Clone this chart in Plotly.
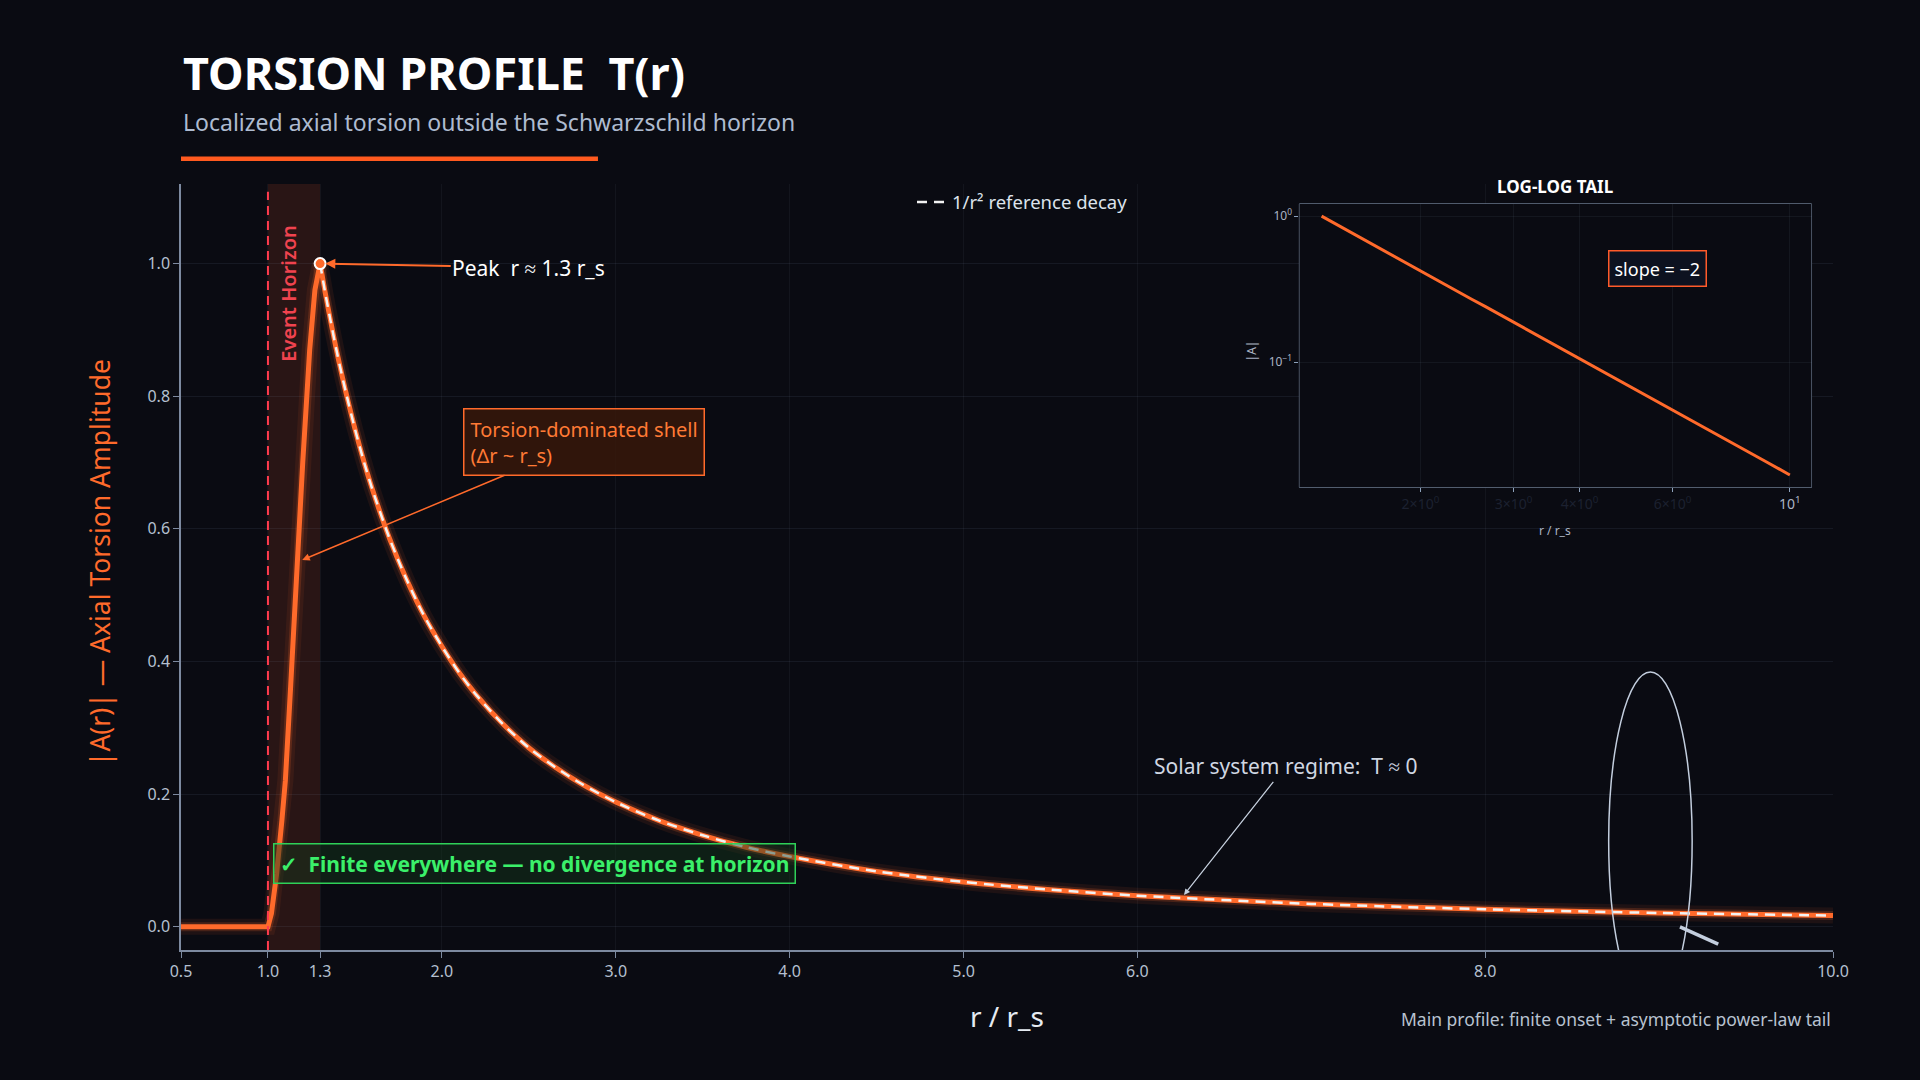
import plotly.graph_objects as go

# main profile |A(r)|
r_flat = [0.5, 0.75, 1.0]
a_flat = [0.0, 0.0, 0.0]

r_rise = [1.0, 1.02, 1.05, 1.08, 1.1, 1.13, 1.16, 1.2, 1.24, 1.27, 1.3]
a_rise = [0.0, 0.02, 0.08, 0.16, 0.22, 0.36, 0.52, 0.70, 0.87, 0.96, 1.0]

r_tail = [1.3, 1.33, 1.36, 1.4, 1.45, 1.5, 1.55, 1.6, 1.7, 1.8, 1.9, 2.0, 2.1, 2.2, 2.35, 2.5,
          2.65, 2.8, 3.0, 3.25, 3.5, 3.75, 4.0, 4.5, 5.0, 5.5, 6.0, 7.0, 8.0, 9.0, 10.0]
a_tail = [1.0, 0.955, 0.914, 0.862, 0.804, 0.751, 0.703, 0.660, 0.585, 0.522, 0.468, 0.423,
          0.383, 0.349, 0.306, 0.270, 0.241, 0.216, 0.188, 0.160, 0.138, 0.120, 0.106, 0.0835,
          0.0676, 0.0559, 0.0469, 0.0345, 0.0264, 0.0209, 0.0169]

x_ticks = [0.5, 1.0, 1.3, 2.0, 3.0, 4.0, 5.0, 6.0, 8.0, 10.0]
y_ticks = [0.0, 0.2, 0.4, 0.6, 0.8, 1.0]
inset_x_ticks = [2, 3, 4, 6, 10]
inset_x_text = ["2×10<sup>0</sup>", "3×10<sup>0</sup>", "4×10<sup>0</sup>", "6×10<sup>0</sup>", "10<sup>1</sup>"]
inset_y_ticks = [1, 0.1]
inset_y_text = ["10<sup>0</sup>", "10<sup>−1</sup>"]

peak_r, peak_a = 1.3, 1.0

BG = "#0a0b12"
ORANGE = "#ff6a2b"
AXIS = "#7d8aa0"
TICK = "#b5c0d0"
FONT = "Noto Sans"

r_onset = r_flat + r_rise[1:]
a_onset = a_flat + a_rise[1:]

fig = go.Figure()

# glow under the main curve
for w, op in [(16, 0.08), (9, 0.18)]:
    fig.add_trace(go.Scatter(x=r_onset, y=a_onset, mode="lines",
                             line=dict(color=ORANGE, width=w), opacity=op,
                             showlegend=False, hoverinfo="skip"))
    fig.add_trace(go.Scatter(x=r_tail, y=a_tail, mode="lines",
                             line=dict(color=ORANGE, width=w, shape="spline", smoothing=0.8),
                             opacity=op, showlegend=False, hoverinfo="skip"))

fig.add_trace(go.Scatter(x=r_onset, y=a_onset, mode="lines", name="|A(r)|",
                         line=dict(color=ORANGE, width=5), showlegend=False))
fig.add_trace(go.Scatter(x=r_tail, y=a_tail, mode="lines", name="|A(r)| tail",
                         line=dict(color=ORANGE, width=5, shape="spline", smoothing=0.8),
                         showlegend=False))

fig.add_trace(go.Scatter(x=r_tail, y=a_tail, mode="lines", name="1/r² reference decay",
                         line=dict(color="#f2f2f2", width=2.5, dash="10px,7px",
                                   shape="spline", smoothing=0.8)))

fig.add_trace(go.Scatter(x=[peak_r], y=[peak_a], mode="markers", showlegend=False,
                         marker=dict(size=11, color=ORANGE, line=dict(color="white", width=2))))

# inset log-log tail
fig.add_trace(go.Scatter(x=r_tail, y=a_tail, mode="lines", xaxis="x2", yaxis="y2",
                         line=dict(color=ORANGE, width=3), showlegend=False))

shapes = [
    dict(type="rect", xref="x", yref="paper", x0=1.0, x1=1.3, y0=0, y1=1,
         fillcolor="rgba(255,90,50,0.13)", line_width=0, layer="below"),
    dict(type="line", xref="x", yref="paper", x0=1.0, x1=1.0, y0=0, y1=0.99,
         line=dict(color="#ff3b4e", width=2, dash="9px,6px")),
    dict(type="rect", xref="paper", yref="paper", x0=0, x1=0.2524, y0=1.030, y1=1.036,
         fillcolor="#ff5a1f", line_width=0),
    dict(type="rect", xref="x2 domain", yref="y2 domain", x0=0, x1=1, y0=0, y1=1,
         fillcolor="rgba(22,32,52,0.45)", line=dict(color="#8ea2bb", width=1), layer="below"),
    # magnifier glyph on the tail
    dict(type="circle", xref="x", yref="y", x0=8.71, x1=9.19, y0=-0.125, y1=0.384,
         line=dict(color="#c3cede", width=1.5)),
    dict(type="line", xref="x", yref="y", x0=9.12, x1=9.34, y0=0.0, y1=-0.026,
         line=dict(color="#c3cede", width=3.5)),
]

annotations = [
    dict(text="<b>TORSION PROFILE  T(r)</b>", xref="paper", yref="paper", x=0.0, y=1.146,
         xanchor="left", yanchor="middle", showarrow=False,
         font=dict(family=FONT, size=45, color="white")),
    dict(text="Localized axial torsion outside the Schwarzschild horizon", xref="paper",
         yref="paper", x=0.0, y=1.081, xanchor="left", yanchor="middle", showarrow=False,
         font=dict(family=FONT, size=23, color="#aebbd0")),
    dict(text="Event Horizon", xref="x", yref="y", x=1.113, y=0.954, textangle=-90,
         xanchor="center", yanchor="middle", showarrow=False,
         font=dict(family=FONT, size=20, color="#f0434f", weight=600)),
    dict(text="Peak  r ≈ 1.3 r_s", xref="x", yref="y", x=1.33, y=1.0, axref="x", ayref="y",
         ax=2.5, ay=0.994, showarrow=True, arrowhead=2, arrowsize=1, arrowwidth=2,
         arrowcolor=ORANGE, font=dict(family=FONT, size=21, color="white")),
    dict(text="Torsion-dominated shell<br>(Δr ~ r_s)", xref="x", yref="y", x=1.197, y=0.553,
         axref="x", ayref="y", ax=2.817, ay=0.731, showarrow=True, arrowhead=2, arrowwidth=1.5,
         arrowcolor=ORANGE, align="left", bgcolor="rgba(55,24,10,0.85)", bordercolor=ORANGE,
         borderwidth=1.5, borderpad=6, font=dict(family=FONT, size=20, color="#ff7a35")),
    dict(text="<b>✓  Finite everywhere — no divergence at horizon</b>", xref="x", yref="y",
         x=2.535, y=0.096, xanchor="center", yanchor="middle", showarrow=False,
         bgcolor="rgba(20,55,28,0.45)", bordercolor="#2fd158", borderwidth=1.5, borderpad=5,
         font=dict(family=FONT, size=21, color="#3bf06a")),
    dict(text="Solar system regime:  T ≈ 0", xref="x", yref="y", x=6.268, y=0.048,
         axref="x", ayref="y", ax=6.852, ay=0.242, showarrow=True, arrowhead=2, arrowwidth=1.2,
         arrowcolor="#c8d2e0", font=dict(family=FONT, size=21, color="#d0d7e2")),
    dict(text="Main profile: finite onset + asymptotic power-law tail", xref="paper",
         yref="paper", x=1.0, y=-0.090, xanchor="right", yanchor="middle", showarrow=False,
         font=dict(family=FONT, size=17.5, color="#b8c2d0")),
    dict(text="r / r_s", xref="paper", yref="paper", x=0.5, y=-0.086, xanchor="center",
         yanchor="middle", showarrow=False, font=dict(family=FONT, size=28, color="#e6ebf2")),
    dict(text="|A(r)| — Axial Torsion Amplitude", xref="paper", yref="paper", x=-0.049,
         y=0.505, xanchor="center", yanchor="middle", textangle=-90, showarrow=False,
         font=dict(family=FONT, size=26.5, color=ORANGE)),
    dict(text="<b>LOG-LOG TAIL</b>", xref="paper", yref="paper", x=0.832, y=0.997,
         xanchor="center", yanchor="middle", showarrow=False,
         font=dict(family=FONT, size=17, color="white")),
    dict(text="slope = −2", xref="x2", yref="y2", x=0.75, y=-0.36, xanchor="center",
         yanchor="middle", showarrow=False,
         bgcolor="#0d1220", bordercolor="#ff5a2a", borderwidth=1.5, borderpad=5,
         font=dict(family=FONT, size=18, color="white")),
    dict(text="r / r_s", xref="paper", yref="paper", x=0.832, y=0.548, xanchor="center",
         yanchor="middle", showarrow=False, font=dict(family=FONT, size=12, color="#aab4c4")),
    dict(text="|A|", xref="paper", yref="paper", x=0.648, y=0.782, xanchor="center",
         yanchor="middle", textangle=-90, showarrow=False,
         font=dict(family=FONT, size=12, color="#aab4c4")),
]

fig.update_layout(
    width=1920, height=1080,
    paper_bgcolor=BG, plot_bgcolor=BG,
    margin=dict(l=181, r=87, t=184, b=130),
    font=dict(family=FONT, color=TICK),
    shapes=shapes, annotations=annotations,
    legend=dict(x=0.4425, y=0.976, xanchor="left", yanchor="middle", orientation="h",
                bgcolor="rgba(0,0,0,0)", font=dict(family=FONT, size=18.5, color="#dde3ec")),
    xaxis=dict(range=[0.5, 10.0], tickvals=x_ticks, ticktext=[f"{v:.1f}" for v in x_ticks],
               showline=True, linecolor=AXIS, linewidth=1.5, ticks="outside", tickcolor=AXIS,
               ticklen=6, showgrid=True, gridcolor="rgba(140,160,190,0.07)", zeroline=False,
               tickfont=dict(size=16, color=TICK)),
    yaxis=dict(range=[-0.035, 1.12], tickvals=y_ticks, ticktext=[f"{v:.1f}" for v in y_ticks],
               showline=True, linecolor=AXIS, linewidth=1.5, ticks="outside", tickcolor=AXIS,
               ticklen=6, showgrid=True, gridcolor="rgba(140,160,190,0.10)", zeroline=False,
               tickfont=dict(size=16, color=TICK)),
    xaxis2=dict(type="log", domain=[0.677, 0.987], anchor="y2", range=[0.072, 1.041],
                tickvals=inset_x_ticks,
                ticktext=[f"<span style='color:#1c2130'>{t}</span>" for t in inset_x_text[:-1]]
                + [inset_x_text[-1]],
                ticks="outside", ticklen=4, tickcolor="#8ea2bb", showline=False,
                showgrid=True, gridcolor="rgba(140,160,190,0.08)", zeroline=False,
                tickfont=dict(size=14, color="#aab4c4")),
    yaxis2=dict(type="log", domain=[0.604, 0.974], anchor="x2", range=[-1.857, 0.084],
                tickvals=inset_y_ticks, ticktext=inset_y_text,
                ticks="outside", ticklen=4, tickcolor="#8ea2bb", showline=False,
                showgrid=True, gridcolor="rgba(140,160,190,0.08)", zeroline=False,
                tickfont=dict(size=12, color="#aab4c4")),
)

fig.write_html("out.html", config={"displayModeBar": False},
               post_script="document.body.style.margin='0';document.body.style.background='#0a0b12';")
